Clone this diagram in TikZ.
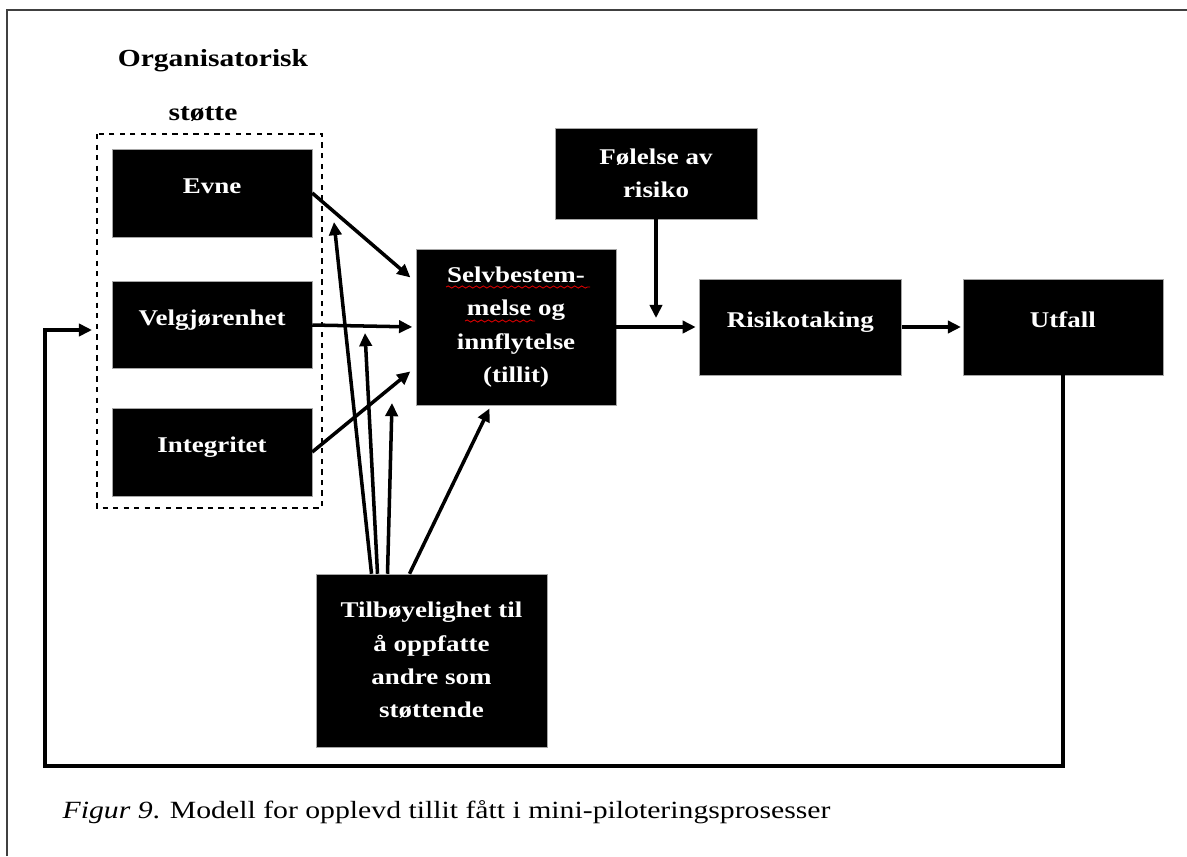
\documentclass[tikz,border=0pt]{standalone}
\usepackage{fontspec}
\setmainfont[FakeStretch=1.2]{Liberation Serif}
\usetikzlibrary{positioning,arrows.meta,decorations.pathmorphing}

\tikzset{
  blackbox/.style={fill=black,draw=gray!70,line width=0.3pt,text=white,
    font=\fontsize{12.8}{19}\selectfont\bfseries,inner sep=0pt,minimum width=4cm},
  onerow/.style={blackbox,text height=#1,text depth=#1},
  morerows/.style={blackbox,align=center,minimum height=#1},
  heading/.style={font=\fontsize{14}{16}\selectfont\bfseries,anchor=base},
  spell/.style={-,draw=red!85!black,line width=0.5pt,decorate,
    decoration={snake,amplitude=0.6pt,segment length=4pt}}
}

\begin{document}
\begin{tikzpicture}[x=0.02cm,y=-0.02cm,->,>={Triangle[length=7.5pt,width=7pt]},line width=2pt]
\useasboundingbox (0,0) rectangle (1187,856);
\draw[-,line width=0.8pt,black!75] (7,856) -- (7,10) -- (1187,10);

% organisatorisk stotte
\node[heading] (org) at (213,66) {Organisatorisk};
\node[heading] (stotte) at (203,120) {støtte};
\draw[-,line width=0.6pt,dashed] (97,134) rectangle (322,508);

\node[onerow=0.88cm] (evne) at (212,193) {Evne};
\node[onerow=0.87cm] (velg) [below=0.88cm of evne] {Velgjørenhet};
\node[onerow=0.88cm] (integ) [below=0.78cm of velg] {Integritet};

% tillit og risiko
\node[morerows=3.12cm] (selv) at (516,327) {Selvbestem-\\melse og\\innflytelse\\(tillit)};
\node[morerows=1.82cm,minimum width=4.04cm] (folelse) at (656,173.5) {Følelse av\\risiko};
\node[onerow=0.96cm,minimum width=4.04cm] (risk) [right=1.66cm of selv] {Risikotaking};
\node[onerow=0.96cm] (utfall) [right=1.22cm of risk] {Utfall};
\node[morerows=3.46cm,minimum width=4.62cm] (tilb) at (431.5,660.5) {Tilbøyelighet til\\å oppfatte\\andre som\\støttende};

\draw[spell] (446,287) -- (590,287);
\draw[spell] (465,321) -- (535,321);

\draw[shorten >=4pt] (evne.east) -- ([yshift=0.9cm]selv.west);
\draw[shorten >=2pt] (velg.east) -- (selv.west);
\draw[shorten >=4pt] (integ.east) -- ([yshift=-0.8cm]selv.west);

\coordinate (t1) at (334,222);
\coordinate (t2) at (365,333);
\coordinate (t3) at (392,403);
\draw ([xshift=-1.2cm]tilb.north) -- (t1);
\draw ([xshift=-1.08cm]tilb.north) -- (t2);
\draw ([xshift=-0.88cm]tilb.north) -- (t3);
\draw[shorten >=2pt] ([xshift=-0.44cm]tilb.north) -- ([xshift=-0.5cm]selv.south);

\coordinate (f1) at (656,318);
\draw (folelse.south) -- (f1);
\draw[shorten >=2pt] (selv.east) -- (risk.west);
\draw[shorten >=1pt] (risk.east) -- (utfall.west);

% tilbake til organisatorisk stotte
\coordinate (lb) at (45,766);
\coordinate (le) at (92,330);
\draw (utfall.south) |- (lb) |- (le);

\node[anchor=base west,font=\fontsize{14.1}{16}\selectfont] (caption) at (55,818)
  {\textit{Figur 9}. Modell for opplevd tillit fått i mini-piloteringsprosesser};
\end{tikzpicture}
\end{document}
